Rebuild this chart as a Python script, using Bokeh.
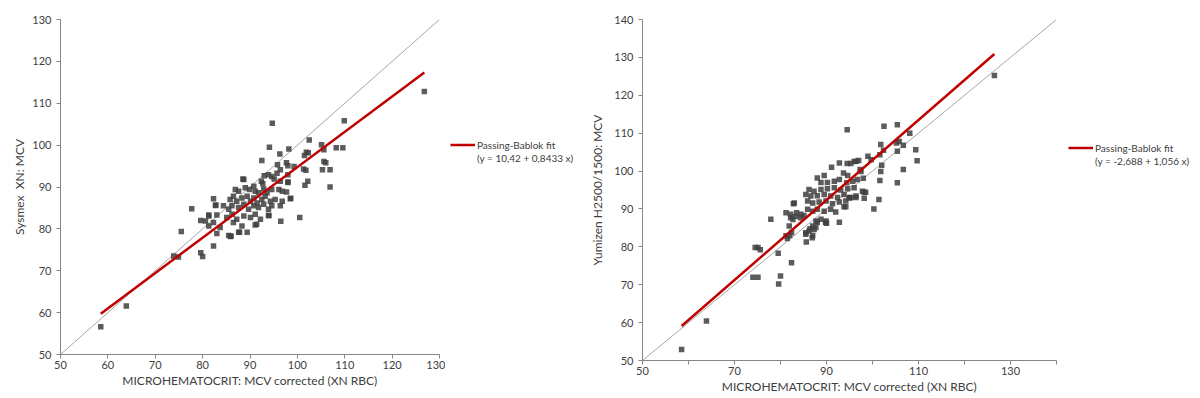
from bokeh.plotting import figure
from bokeh.models import Range1d, FixedTicker, Legend, LegendItem
from bokeh.layouts import row
from bokeh.embed import file_html
from bokeh.resources import INLINE

FONT = "Lato"

# ---------------- data: left panel (Sysmex XN) ----------------
left_x = [58.5, 63.9, 73.9, 74.9, 75.5, 77.7, 79.6, 80.0, 79.6, 81.3,
          82.3, 83.0, 85.9, 86.0, 94.0, 94.7, 96.5, 98.6, 98.0, 99.3,
          101.6, 102.3, 102.5, 105.1, 105.3, 105.6, 106.0, 105.6, 106.9, 106.9,
          108.2, 109.6, 109.9, 126.8, 81.3, 82.8, 88.7, 91.4, 87.6,
          94.1, 98.2, 96.3, 101.9, 101.5,
          92.5, 95.8, 97.7, 98.0, 101.3, 101.8, 102.2,
          95.7, 96.4, 93.9, 98.0,
          88.5, 93.0, 94.6, 95.1, 92.4, 92.7, 96.4, 98.0,
          86.9, 87.6, 89.0, 89.9, 90.8, 91.1, 91.8, 92.9, 93.6, 94.6, 96.1, 96.8, 97.7,
          82.3, 85.8, 86.5, 87.2, 88.3, 89.4, 90.1, 90.8, 91.5, 92.5, 93.2, 94.3, 95.3, 96.8, 98.5,
          82.7, 84.4, 85.5, 86.2, 87.6, 88.7, 89.7, 90.8, 91.8, 92.9, 93.9, 94.6, 96.4,
          81.3, 83.0, 85.1, 86.2, 87.2, 88.7, 90.1, 91.1, 92.2, 93.9, 100.5,
          80.6, 82.3, 83.7, 86.5, 88.3, 91.1,
          85.5, 87.8, 89.4]
left_y = [56.6, 61.6, 73.5, 73.3, 79.4, 84.8, 74.3, 73.4, 82.0, 80.7,
          75.9, 78.9, 78.2, 78.3, 83.2, 105.2, 81.8, 87.3, 91.2, 94.9,
          90.4, 98.2, 101.2, 100.1, 94.1, 96.1, 95.8, 98.9, 94.1, 90.0,
          99.4, 99.4, 105.8, 112.8, 83.3, 85.7, 91.8, 81.1, 79.2,
          99.5, 99.1, 97.9, 98.3, 97.5,
          96.3, 95.3, 95.8, 95.1, 94.3, 94.0, 91.4,
          93.3, 94.1, 92.9, 92.9,
          91.9, 92.7, 92.5, 91.9, 91.4, 90.8, 91.4, 91.1,
          89.4, 89.0, 89.8, 89.4, 90.2, 89.0, 88.6, 89.5, 88.6, 89.4, 89.4, 89.0, 88.8,
          87.2, 87.0, 87.8, 86.6, 87.4, 87.8, 86.6, 87.4, 86.2, 87.0, 87.8, 86.6, 87.0, 86.6, 87.2,
          85.6, 85.5, 84.7, 85.5, 85.1, 85.9, 84.7, 85.5, 85.1, 85.9, 84.7, 85.5, 85.5,
          83.1, 83.3, 82.7, 83.5, 82.3, 83.1, 82.7, 83.5, 82.3, 83.2, 82.7,
          81.9, 81.5, 80.3, 81.5, 80.7, 80.9,
          78.4, 79.2, 79.2]
left_fit = (10.42, 0.8433)
left_fit_label = "(y = 10,42 + 0,8433 x)"
left_ylabel = "Sysmex\u00a0 XN: MCV"

# ---------------- data: right panel (Yumizen H2500/1500) ----------------
right_x = [58.5, 63.9, 74.5, 75.1, 75.6, 74.0, 75.1, 77.9, 79.5, 79.6,
           80.0, 82.4, 81.2, 81.5, 82.0, 82.4, 82.8, 82.2, 82.7, 83.5,
           84.4, 85.5, 86.4, 86.9, 85.6, 87.7, 88.0, 87.3, 89.8, 90.0,
           92.8, 94.2, 94.5, 92.8, 91.1, 96.4, 95.0, 95.3, 98.2, 98.5,
           98.2, 98.0, 100.3, 101.4, 101.6, 101.8, 102.0, 101.8, 101.6, 102.4,
           102.5, 99.0, 99.7, 96.0, 97.0, 96.5, 94.5, 95.3, 97.3, 105.4,
           105.2, 105.8, 105.4, 105.4, 106.7, 106.7, 108.1, 109.4, 109.7, 126.5,
           88.0, 89.5, 93.7, 94.6, 97.5,
           88.8, 90.2, 91.7, 92.8, 94.4, 95.7, 96.7,
           86.2, 87.3, 88.8, 90.2, 91.7, 93.1, 94.6, 96.0, 97.8,
           85.5, 86.6, 88.0, 89.5, 90.9, 92.4, 93.8, 94.9, 96.4,
           85.9, 87.0, 88.4, 89.9, 91.3, 92.8, 94.2, 83.0, 93.8,
           82.2, 83.3, 84.4, 85.1,
           85.9, 87.0, 88.0, 89.5, 90.9, 92.0,
           81.9, 88.8, 89.9, 87.0, 87.7,
           85.5, 86.2, 87.0, 81.2]
right_y = [52.9, 60.4, 79.8, 79.8, 79.2, 72.0, 72.0, 87.3, 78.3, 70.2,
           72.3, 75.8, 89.0, 82.2, 83.0, 83.8, 91.4, 87.7, 87.2, 89.0,
           88.6, 83.3, 84.8, 82.4, 81.3, 86.8, 86.5, 84.6, 86.4, 86.2,
           86.5, 90.6, 110.9, 102.1, 101.0, 93.0, 92.9, 93.0, 94.4, 94.4,
           92.8, 98.1, 90.0, 92.5, 97.5, 99.9, 101.5, 107.0, 104.3, 105.5,
           111.8, 103.9, 103.0, 102.5, 102.8, 102.6, 102.0, 102.0, 100.4, 112.2,
           107.4, 107.8, 105.2, 96.9, 106.8, 100.4, 110.0, 105.6, 102.7, 125.2,
           98.2, 98.8, 99.5, 98.8, 99.9,
           97.0, 97.0, 97.3, 97.8, 96.9, 97.3, 97.8,
           95.1, 94.7, 95.1, 95.3, 95.6, 95.0, 95.3, 95.6, 94.7,
           93.8, 93.4, 93.5, 93.8, 93.4, 93.0, 93.8, 93.0, 93.4,
           92.1, 91.6, 91.8, 92.1, 91.4, 91.8, 92.1, 91.6, 90.6,
           88.6, 88.0, 87.7, 88.3,
           89.9, 89.4, 89.9, 89.4, 89.9, 89.2,
           85.5, 87.3, 86.8, 85.5, 85.1,
           83.7, 84.2, 83.0, 82.9]
right_fit = (-2.688, 1.056)
right_fit_label = "(y = -2,688 + 1,056 x)"
right_ylabel = "Yumizen H2500/1500: MCV"

xlabel = "MICROHEMATOCRIT: MCV corrected (XN RBC)"
fit_name = "Passing-Bablok fit"

left_axis_min, left_axis_max = 50, 130
left_ticks = [50, 60, 70, 80, 90, 100, 110, 120, 130]
right_axis_min, right_axis_max = 50, 140
right_xticks = [50, 70, 90, 110, 130]
right_xminor = [60, 80, 100, 120, 140]
right_yticks = [50, 60, 70, 80, 90, 100, 110, 120, 130, 140]

RED = "#c00000"


def fit_line(xs, fit):
    a, b = fit
    fx = [min(xs), max(xs)]
    return fx, [a + b * v for v in fx]


def make_panel(xs, ys, fit, ylabel, amin, amax, xticks, xminor, yticks,
               w, h, bl, bt, br, bb, ylab_standoff):
    p = figure(width=w, height=h,
               x_range=Range1d(amin, amax), y_range=Range1d(amin, amax),
               output_backend="svg", toolbar_location=None,
               min_border_left=bl, min_border_top=bt, min_border_right=br, min_border_bottom=bb)
    p.grid.visible = False
    p.outline_line_color = None
    p.background_fill_color = "white"
    p.border_fill_color = "white"

    # identity line
    p.line(x=[amin, amax], y=[amin, amax], line_color="#a6a6a6", line_width=1)
    # data
    p.scatter(x=xs, y=ys, marker="square", size=5.5, fill_color="#3f3f3f",
              line_color=None, fill_alpha=0.85)
    fx, fy = fit_line(xs, fit)
    p.line(x=fx, y=fy, line_color=RED, line_width=2.5)

    for ax in (p.xaxis[0], p.yaxis[0]):
        ax.axis_line_color = "#868686"
        ax.major_tick_line_color = "#868686"
        ax.minor_tick_line_color = "#868686"
        ax.major_tick_in = 0
        ax.major_tick_out = 4
        ax.minor_tick_in = 0
        ax.minor_tick_out = 4
        ax.major_label_text_font = FONT
        ax.major_label_text_font_size = "11px"
        ax.major_label_text_color = "#404040"
        ax.axis_label_text_font = FONT
        ax.axis_label_text_font_size = "12px"
        ax.axis_label_text_font_style = "normal"
        ax.axis_label_text_color = "#404040"

    p.xaxis[0].ticker = FixedTicker(ticks=xticks, minor_ticks=xminor)
    p.yaxis[0].ticker = FixedTicker(ticks=yticks, minor_ticks=[])
    p.xaxis[0].axis_label = xlabel
    p.yaxis[0].axis_label = ylabel
    p.xaxis[0].major_label_standoff = 2
    p.xaxis[0].axis_label_standoff = 1
    p.yaxis[0].major_label_standoff = 5
    p.yaxis[0].axis_label_standoff = ylab_standoff
    return p


def make_legend(xs, fit, fit_label, w, h, lx, ly):
    # separate small figure holding only the legend (its ranges keep the proxy line out of view)
    q = figure(width=w, height=h, x_range=Range1d(0, 1), y_range=Range1d(0, 1),
               x_axis_type=None, y_axis_type=None,
               output_backend="svg", toolbar_location=None,
               min_border_left=0, min_border_right=0, min_border_top=0, min_border_bottom=0)
    q.grid.visible = False
    q.outline_line_color = None
    q.background_fill_color = "white"
    q.border_fill_color = "white"
    fx, fy = fit_line(xs, fit)
    r_fit = q.line(x=fx, y=fy, line_color=RED, line_width=2.5)
    r_dummy = q.line(x=fx, y=fy, line_alpha=0)
    legend = Legend(items=[LegendItem(label=fit_name, renderers=[r_fit]),
                           LegendItem(label=fit_label, renderers=[r_dummy])],
                    location=(lx, ly))
    legend.border_line_color = None
    legend.background_fill_alpha = 0
    legend.padding = 0
    legend.margin = 0
    legend.spacing = 0
    legend.glyph_width = 25
    legend.glyph_height = 13
    legend.label_height = 13
    legend.label_standoff = 2
    legend.label_text_font = FONT
    legend.label_text_font_size = "10px"
    legend.label_text_color = "#404040"
    q.add_layout(legend)
    return q


p1 = make_panel(left_x, left_y, left_fit, left_ylabel,
                left_axis_min, left_axis_max, left_ticks, [], left_ticks,
                w=445, h=390, bl=60, bt=18, br=6, bb=33, ylab_standoff=2)
l1 = make_legend(left_x, left_fit, left_fit_label, w=137, h=390, lx=5, ly=190)
p2 = make_panel(right_x, right_y, right_fit, right_ylabel,
                right_axis_min, right_axis_max, right_xticks, right_xminor, right_yticks,
                w=480, h=396, bl=60, bt=19, br=6, bb=34, ylab_standoff=6)
l2 = make_legend(right_x, right_fit, right_fit_label, w=138, h=396, lx=6, ly=193)

layout = row(p1, l1, p2, l2)
open("out.html", "w").write(file_html(layout, INLINE))
